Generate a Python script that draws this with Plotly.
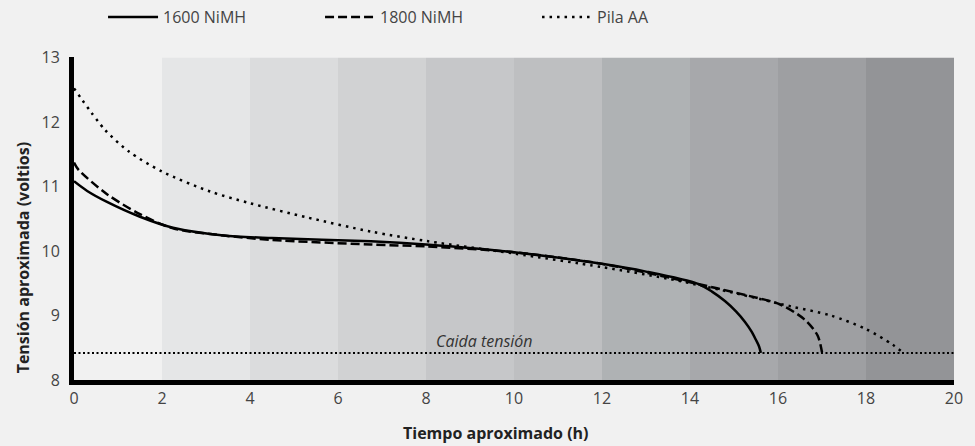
import plotly.graph_objects as go

# datos
x_1600 = [0, 0.3, 0.75, 1.5, 2.25, 3.4, 4.5, 6.75, 8, 10, 12, 13, 14.18, 14.5, 14.8, 15.05, 15.25, 15.4, 15.5, 15.57, 15.61]
y_1600 = [11.08, 10.93, 10.76, 10.53, 10.36, 10.24, 10.20, 10.15, 10.10, 9.98, 9.80, 9.68, 9.49, 9.37, 9.22, 9.06, 8.90, 8.75, 8.62, 8.52, 8.42]

x_1800 = [0, 0.1, 0.75, 1.5, 2.25, 3.4, 4.5, 6.75, 8, 10, 12, 14.1, 15.3, 16.05, 16.6, 16.9, 17.0]
y_1800 = [11.37, 11.26, 10.88, 10.57, 10.35, 10.24, 10.17, 10.10, 10.07, 9.98, 9.80, 9.50, 9.31, 9.17, 8.94, 8.69, 8.43]

x_aa = [0, 0.7, 1.25, 2, 3.1, 4, 5.3, 6.75, 8.05, 10, 12, 13.5, 15, 16.3, 17.2, 18, 18.6, 18.85]
y_aa = [12.52, 11.88, 11.54, 11.23, 10.92, 10.74, 10.52, 10.30, 10.15, 9.96, 9.75, 9.57, 9.35, 9.14, 9.0, 8.79, 8.55, 8.42]

caida = 8.42

# franjas de fondo cada 2 h
bandas_inicio = [2, 4, 6, 8, 10, 12, 14, 16, 18]
bandas_color = ['#e5e6e7', '#dbdcdd', '#d1d2d3', '#c6c7c9', '#bebfc1',
                '#afb2b4', '#a7a8ab', '#9e9fa2', '#939497']

fig = go.Figure()

for x0, col in zip(bandas_inicio, bandas_color):
    fig.add_shape(type='rect', xref='x', yref='y', x0=x0, x1=x0 + 2, y0=8, y1=13,
                  fillcolor=col, line_width=0, layer='below')

fig.add_trace(go.Scatter(x=[0, 20], y=[caida, caida], mode='lines', showlegend=False,
                         line=dict(color='black', width=2, dash='2px,2.5px'), hoverinfo='skip'))

fig.add_trace(go.Scatter(x=x_1600, y=y_1600, mode='lines', name='1600 NiMH',
                         line=dict(color='black', width=2.5, shape='spline', smoothing=0.8)))
fig.add_trace(go.Scatter(x=x_1800, y=y_1800, mode='lines', name='1800 NiMH',
                         line=dict(color='black', width=2.5, dash='9px,4px', shape='spline', smoothing=0.8)))
fig.add_trace(go.Scatter(x=x_aa, y=y_aa, mode='lines', name='Pila AA',
                         line=dict(color='black', width=2.5, dash='2.5px,5px', shape='spline', smoothing=0.8)))

fig.add_annotation(x=9.33, y=caida, xref='x', yref='y', text='<i>Caida tensión</i>',
                   showarrow=False, yanchor='bottom', yshift=-1,
                   font=dict(size=16, color='#333333'))

# títulos de ejes como anotaciones (van algo desplazados en el original)
fig.add_annotation(x=-0.058, y=0.38, xref='paper', yref='paper', textangle=-90,
                   text='<b>Tensión aproximada (voltios)</b>', showarrow=False,
                   xanchor='center', yanchor='middle', font=dict(size=16, color='#222222'))
fig.add_annotation(x=0.48, y=-0.163, xref='paper', yref='paper',
                   text='<b>Tiempo aproximado (h)</b>', showarrow=False,
                   xanchor='center', yanchor='middle', font=dict(size=16, color='#222222'))

fig.update_layout(
    width=975, height=446,
    margin=dict(l=74, r=18, t=55, b=66),
    paper_bgcolor='#f1f1f1',
    plot_bgcolor='#f1f1f1',
    font=dict(family='Open Sans', size=16, color='#444444'),
    legend=dict(orientation='h', x=0.033, xref='paper', y=1.0, yref='container',
                xanchor='left', yanchor='top', entrywidth=152, itemwidth=50,
                font=dict(size=16, color='#444444'), bgcolor='rgba(0,0,0,0)'),
    xaxis=dict(range=[0, 20], tickvals=list(range(0, 21, 2)), showgrid=False, zeroline=False,
               showline=True, linecolor='black', linewidth=5, ticks=''),
    yaxis=dict(range=[8, 13], tickvals=list(range(8, 14)), showgrid=False, zeroline=False,
               showline=True, linecolor='black', linewidth=5, ticks='', ticklabelstandoff=6),
)

fig.write_html('out.html', config={'displayModeBar': False},
               post_script="document.body.style.margin='0';document.body.style.background='#f1f1f1';")
